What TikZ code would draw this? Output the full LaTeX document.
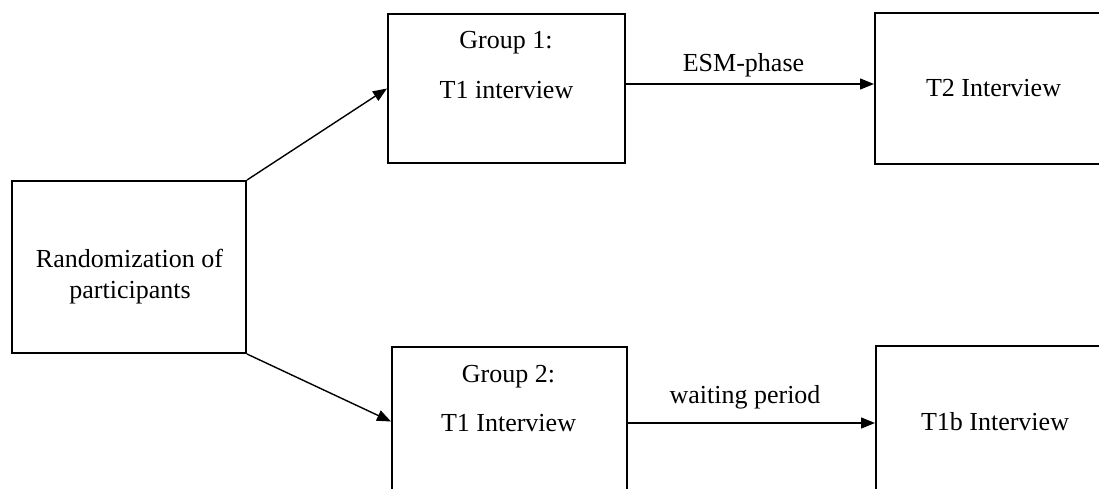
\documentclass[tikz,border=0pt]{standalone}
\usepackage{fontspec}
\setmainfont{Liberation Serif}
\usetikzlibrary{arrows.meta}
\begin{document}
\begin{tikzpicture}[x=1pt,y=-1pt,
  box/.style={draw=black, line width=2pt, rectangle, inner sep=0pt},
  txt/.style={anchor=base, inner sep=0pt, font=\fontsize{26}{31}\selectfont},
  conn/.style={line width=1.4pt, -{Triangle[length=14pt,width=11pt]}}]
  \useasboundingbox (0,0) rectangle (1099,489);
  \clip (0,0) rectangle (1099,489);
  % boxes
  \node[box, minimum width=234pt, minimum height=172pt] (rand) at (129,267) {};
  \node[box, minimum width=237pt, minimum height=149pt] (g1) at (506.5,88.5) {};
  \node[box, minimum width=236pt, minimum height=151pt] (t2) at (993,88.5) {};
  \node[box, minimum width=235pt, minimum height=149pt] (g2) at (509.5,421.5) {};
  \node[box, minimum width=238pt, minimum height=149pt] (t1b) at (995,420.5) {};
  % texts
  \node[txt] (r1) at (129.5,267) {Randomization of};
  \node[txt] (r2) at (130,298) {participants};
  \node[txt] (g1a) at (506,49) {Group 1:};
  \node[txt] (g1b) at (506.5,99) {T1 interview};
  \node[txt] (t2a) at (993.5,97) {T2 Interview};
  \node[txt] (g2a) at (508.5,382) {Group 2:};
  \node[txt] (g2b) at (508.5,431) {T1 Interview};
  \node[txt] (t1ba) at (995,430) {T1b Interview};
  \node[txt] (esm) at (743.5,72) {ESM-phase};
  \node[txt] (wait) at (745,403) {waiting period};
  % connector end points on the box edges
  \coordinate (e1) at ([yshift=4.5pt]g1.east);
  \coordinate (e2) at ([yshift=-1.5pt]g2.east);
  % connectors
  \draw[conn] (rand.north east) -- (g1.west);
  \draw[conn] (rand.south east) -- (g2.west);
  \draw[conn] (e1) -- (t2.west |- e1);
  \draw[conn] (e2) -- (t1b.west |- e2);
\end{tikzpicture}
\end{document}
